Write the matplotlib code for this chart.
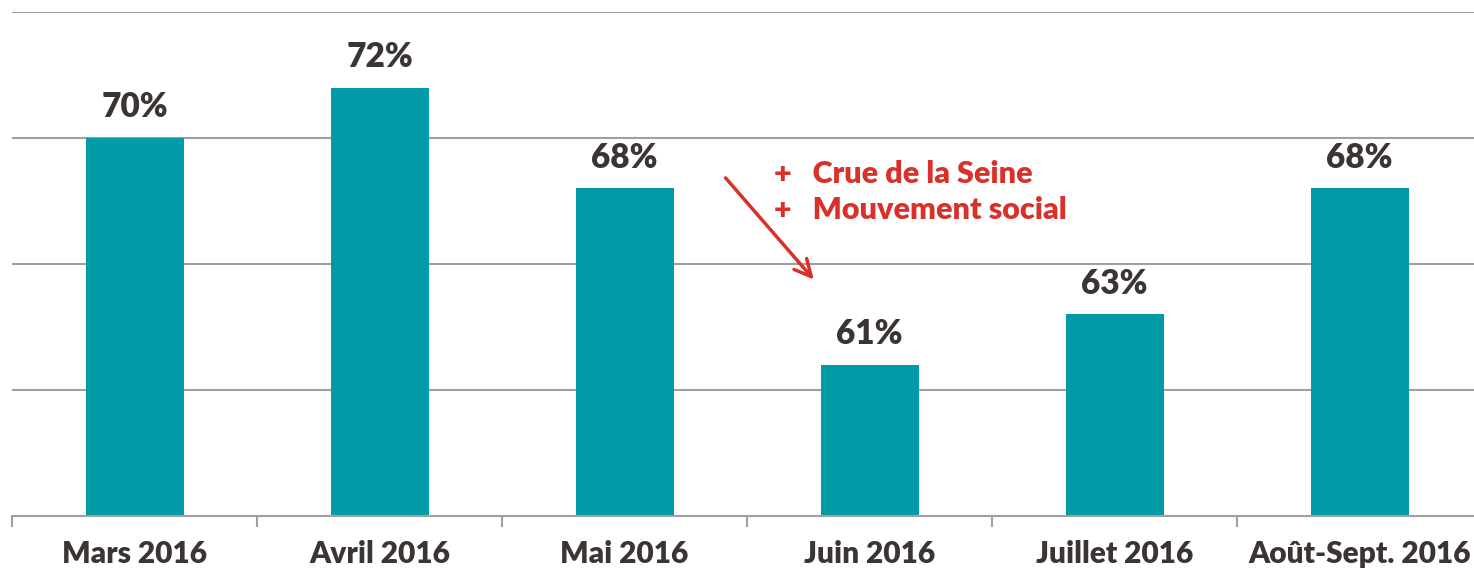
import matplotlib.pyplot as plt
import numpy as np

# data
months = ['Mars 2016', 'Avril 2016', 'Mai 2016', 'Juin 2016',
          'Juillet 2016', 'Août-Sept. 2016']
rates = [70, 72, 68, 61, 63, 68]
notes = ['+   Crue de la Seine', '+   Mouvement social']

BAR = '#009ba6'
DARK = '#3a3532'
RED = '#d9302a'
GRID = '#a0a0a0'

plt.rcParams['font.family'] = ['Lato', 'DejaVu Sans']

W, H = 1474, 568
fig = plt.figure(figsize=(W / 100, H / 100), dpi=100)
ax = fig.add_axes([12 / W, 52 / H, (W - 12) / W, 504 / H])

x = np.arange(len(months))
ax.bar(x, rates, width=0.4, color=BAR, zorder=2)

for xi, v in zip(x, rates):
    ax.annotate(f'{v}%', (xi, v), xytext=(0, 10.5), textcoords='offset points',
                ha='center', va='bottom', fontsize=24, fontweight='heavy',
                color=DARK)

ax.set_yticks([60, 65, 70, 75])
ax.yaxis.grid(True, color=GRID, linewidth=1.5, zorder=0)
ax.tick_params(axis='y', left=False, labelleft=False)

ax.set_xticks(x)
ax.set_xticklabels(months, fontsize=21.5, fontweight='heavy', color=DARK)
ax.tick_params(axis='x', which='major', length=0, pad=17)
ax.set_xticks(np.arange(-0.5, len(months), 1), minor=True)
ax.tick_params(axis='x', which='minor', length=8, width=1.5, color=GRID)

# limits after ticks so the minor ticks do not widen the view
ax.set_ylim(55, 75)
ax.set_xlim(-0.5, 5.467)

for s in ['top', 'left', 'right']:
    ax.spines[s].set_visible(False)
ax.spines['bottom'].set_color(GRID)
ax.spines['bottom'].set_linewidth(1.5)

# annotation for Juin
ax.annotate('', xy=(2.78, 64.3), xytext=(2.405, 68.5),
            arrowprops=dict(arrowstyle='->', color=RED, lw=2.5,
                            mutation_scale=30))
ax.text(2.61, 68.57, notes[0], fontsize=22, fontweight='heavy', color=RED,
        va='center', ha='left')
ax.text(2.61, 67.14, notes[1], fontsize=22, fontweight='heavy', color=RED,
        va='center', ha='left')

fig.savefig('out.png', dpi=100)
